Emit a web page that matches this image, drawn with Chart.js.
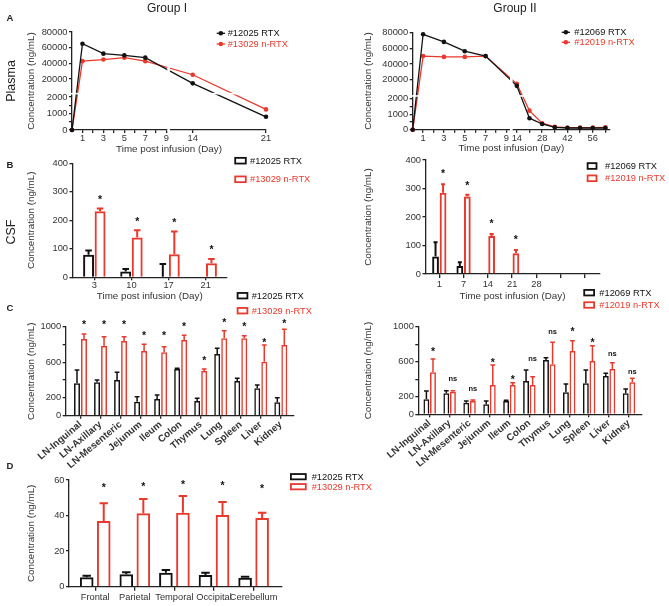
<!DOCTYPE html>
<html>
<head>
<meta charset="utf-8">
<script src="https://cdn.jsdelivr.net/npm/chart.js@4"></script>
<style>
body { margin: 0; background: #fff; width: 669px; height: 606px; position: relative; overflow: hidden; font-family: "Liberation Sans", Arial, Helvetica, sans-serif; color: #222; }
canvas { position: absolute; left: 0; top: 0; }
.t { position: absolute; white-space: nowrap; line-height: 1; transform: translate(-50%, -50%); }
.p { font-weight: bold; font-size: 9.5px; }
.v { font-size: 12.5px; transform: translate(-50%, -50%) rotate(-90deg); }
</style>
</head>
<body>
<canvas id="plasma1" width="669" height="606"></canvas>
<canvas id="plasma2" width="669" height="606"></canvas>
<canvas id="csf1" width="669" height="606"></canvas>
<canvas id="csf2" width="669" height="606"></canvas>
<canvas id="tissue1" width="669" height="606"></canvas>
<canvas id="tissue2" width="669" height="606"></canvas>
<canvas id="brain" width="669" height="606"></canvas>

<div class="t" style="left:167px;top:8px;font-size:12px">Group I</div>
<div class="t" style="left:515px;top:8px;font-size:12px">Group II</div>
<div class="t p" style="left:10px;top:18px">A</div>
<div class="t p" style="left:10px;top:165px">B</div>
<div class="t p" style="left:10px;top:308px">C</div>
<div class="t p" style="left:10px;top:466px">D</div>
<div class="t v" style="left:11px;top:81px">Plasma</div>
<div class="t v" style="left:11px;top:232px">CSF</div>

<script>
// A: plasma concentration (ng/mL) by day
const plasmaDaysG1 = [0, 1, 3, 5, 7, 14, 21];
const plasmaRtxG1 = [0, 65000, 52400, 50200, 47300, 14500, 800];
const plasmaNrtxG1 = [0, 42800, 44900, 47300, 42800, 25500, 1250];
const plasmaDaysG2 = [0, 1, 3, 5, 7, 14, 21, 28, 35, 42, 49, 56, 63];
const plasmaRtxG2 = [0, 77500, 67900, 56200, 50000, 12500, 745, 370, 150, 110, 110, 110, 110];
const plasmaNrtxG2 = [0, 50000, 49000, 49000, 50000, 15000, 1230, 420, 180, 140, 140, 140, 150];
const plasmaXTicksG1 = [1, 2, 3, 4, 5, 6, 7, 8, 9, 14, 21];
const plasmaXLabelsG1 = ['1', '', '3', '', '5', '', '7', '', '9', '14', '21'];
const plasmaXTicksG2 = [1, 2, 3, 4, 5, 6, 7, 8, 9, 14, 21, 28, 35, 42, 49, 56, 63];
const plasmaXLabelsG2 = ['1', '', '3', '', '5', '', '7', '', '9', '14', '', '28', '', '42', '', '56', ''];
const plasmaYTicks = [0, 500, 1000, 1500, 2000, 20000, 40000, 60000, 80000];
const plasmaYLabels = ['0', '', '1000', '', '2000', '20000', '40000', '60000', '80000'];

// B: CSF concentration (ng/mL)
const csfDaysG1 = ['3', '10', '17', '21'];
const csfRtxG1 = [79, 20, 2, null];
const csfRtxErrG1 = [94, 29, 47, null];
const csfNrtxG1 = [232, 140, 81, 49];
const csfNrtxErrG1 = [241, 165, 161, 64];
const csfStarsG1 = [283, 206, 200, 106];
const csfDaysG2 = ['1', '7', '14', '21', '28', '', ''];
const csfRtxG2 = [61, 28, null, null, null, null, null];
const csfRtxErrG2 = [111, 41, null, null, null, null, null];
const csfNrtxG2 = [285, 272, 133, 73, null, null, null];
const csfNrtxErrG2 = [315, 278, 140, 84, null, null, null];
const csfStarsG2 = [361, 320, 186, 131, null, null, null];
const csfYTicks = [0, 100, 200, 300, 400];

// C: tissue concentration (ng/mL)
const tissues = ['LN-Inguinal', 'LN-Axillary', 'LN-Mesenteric', 'Jejunum', 'Ileum', 'Colon', 'Thymus', 'Lung', 'Spleen', 'Liver', 'Kidney'];
const tissueRtxG1 = [364, 375, 401, 157, 188, 525, 165, 693, 390, 308, 150];
const tissueRtxErrG1 = [513, 401, 488, 213, 232, 532, 195, 757, 420, 345, 202];
const tissueNrtxG1 = [862, 783, 839, 727, 712, 850, 502, 869, 869, 607, 794];
const tissueNrtxErrG1 = [918, 888, 888, 802, 775, 903, 525, 955, 899, 794, 971];
const tissueMarksG1 = ['*', '*', '*', '*', '*', '*', '*', '*', '*', '*', '*'];
const tissueMarkAtG1 = [1049, 1049, 1049, 926, 926, 1027, 645, 1075, 1027, 851, 1067];
const tissueRtxG2 = [171, 240, 132, 114, 152, 380, 620, 251, 354, 437, 240];
const tissueRtxErrG2 = [266, 269, 152, 152, 160, 506, 646, 346, 506, 468, 289];
const tissueNrtxG2 = [479, 258, 152, 334, 334, 334, 571, 723, 608, 517, 365];
const tissueNrtxErrG2 = [631, 269, 163, 563, 361, 429, 822, 840, 783, 589, 411];
const tissueMarksG2 = ['*', 'ns', 'ns', '*', '*', 'ns', 'ns', '*', '*', 'ns', 'ns'];
const tissueMarkAtG2 = [745, 403, 285, 620, 429, 628, 936, 974, 848, 685, 486];
const tissueYTicks = [0, 200, 400, 600, 800, 1000];
const tissueYLabels = ['0', '200', '', '600', '', '1000'];

// D: brain regions (ng/mL)
const regions = ['Frontal', 'Parietal', 'Temporal', 'Occipital', 'Cerebellum'];
const brainRtx = [5.3, 7, 7.9, 6.6, 5.1];
const brainRtxErr = [6.2, 8.1, 9.4, 7.9, 5.6];
const brainNrtx = [37, 41.3, 41.6, 40.3, 38.7];
const brainNrtxErr = [46.9, 49.3, 51, 47.6, 41.6];
const brainStars = [57.2, 57.6, 59, 58.2, 56.6];
const brainYTicks = [0, 20, 40, 60];

const RED = '#e8392e';
const BLACK = '#111';
const AXIS = '#222';
const TXT = '#333';
const FONT = '"Liberation Sans", Arial, Helvetica, sans-serif';
const TITLE_SIZE = 9.8;
const LH = TITLE_SIZE * 1.2;

Chart.defaults.font.family = FONT;
Chart.defaults.font.size = 9.3;
Chart.defaults.color = TXT;
Chart.defaults.animation = false;
Chart.defaults.responsive = false;
Chart.defaults.events = [];
Chart.defaults.plugins.legend.display = false;
Chart.defaults.plugins.tooltip.enabled = false;

// broken axes: map real values onto one linear scale
const xG1 = d => d <= 9 ? d : d - 2.47;
const xG2 = d => d <= 9 ? d : 10 + (d - 14) * 0.1737;
const yG1 = v => v <= 2000 ? v * 0.0165 : 35.3 + v * 0.000785;
const yG2 = v => v <= 2000 ? v * 0.0155 : 34 + v * 0.000795;

// where the plot area sits on the page
function frame(area, yTitleX, xTitleY) {
    const padLeft = yTitleX - LH / 2;
    const xHeight = xTitleY ? xTitleY + LH / 2 - area.bottom : 70;
    return {
        padding: { left: padLeft, top: area.top, right: 669 - area.right, bottom: 606 - area.bottom - xHeight },
        yWidth: area.left - padLeft,
        xHeight
    };
}

function yScale(f, min, max, tickVals, tickLabels) {
    return {
        type: 'linear', position: 'left', min, max, bounds: 'data',
        border: { display: true, color: AXIS, width: 1.3 },
        grid: { drawOnChartArea: false, drawTicks: true, tickLength: 3, color: AXIS, lineWidth: 1.3 },
        ticks: { padding: 1.5, color: TXT, autoSkip: false, callback: (v, i) => tickLabels[i] },
        afterBuildTicks: s => { s.ticks = tickVals.map(v => ({ value: v })); },
        title: { display: true, text: 'Concentration (ng/mL)', color: TXT, font: { size: TITLE_SIZE }, padding: 0 },
        afterFit: s => { s.width = f.yWidth; }
    };
}

function xScale(f, min, max, tickVals, tickLabels, o) {
    const ticks = { padding: o.pad, color: TXT, autoSkip: false, maxRotation: o.rot, minRotation: o.rot, callback: (v, i) => tickLabels[i] };
    if (o.font) ticks.font = o.font;
    return {
        type: 'linear', position: 'bottom', min, max, bounds: 'data', offset: false,
        border: { display: true, color: AXIS, width: 1.3 },
        grid: { offset: false, drawOnChartArea: false, drawTicks: true, tickLength: o.tl, color: AXIS, lineWidth: 1.3 },
        ticks,
        afterBuildTicks: s => { s.ticks = tickVals.map(v => ({ value: v })); },
        title: { display: !!o.title, text: o.title || '', color: TXT, font: { size: TITLE_SIZE }, padding: 0 },
        afterFit: s => { s.height = f.xHeight; }
    };
}

function lineSet(label, color, days, vals, xf, yf) {
    return {
        label, borderColor: color, backgroundColor: color,
        data: days.map((d, i) => ({ x: xf(d), y: yf(vals[i]) })),
        pointBackgroundColor: color, pointBorderColor: color, pointBorderWidth: 0,
        pointRadius: 2.3, borderWidth: 1.3, tension: 0, clip: false
    };
}

function barSet(label, color, vals, err, bw, cat, bar, cap, extra) {
    return Object.assign({
        label, borderColor: color, backgroundColor: 'rgba(255,255,255,0)',
        data: vals.map((v, i) => ({ x: i, y: v })),
        borderWidth: bw, categoryPercentage: cat, barPercentage: bar,
        errTop: err, capFrac: cap
    }, extra || {});
}

const errorBars = {
    id: 'errorBars',
    afterDatasetsDraw(chart) {
        const ctx = chart.ctx;
        const ys = chart.scales.y;
        chart.data.datasets.forEach((ds, di) => {
            if (!ds.errTop) return;
            const meta = chart.getDatasetMeta(di);
            ctx.save();
            ctx.strokeStyle = ds.borderColor;
            ctx.lineWidth = ds.borderWidth;
            meta.data.forEach((el, i) => {
                const top = ds.errTop[i];
                if (top == null) return;
                const base = ds.data[i].y == null ? ys.getPixelForValue(0) : el.y;
                const yt = ys.getPixelForValue(top);
                const half = el.width * ds.capFrac / 2;
                ctx.beginPath();
                ctx.moveTo(el.x, base);
                ctx.lineTo(el.x, yt);
                ctx.moveTo(el.x - half, yt);
                ctx.lineTo(el.x + half, yt);
                ctx.stroke();
            });
            ctx.restore();
        });
    }
};

const marks = {
    id: 'marks',
    afterDatasetsDraw(chart) {
        const ctx = chart.ctx;
        const ys = chart.scales.y;
        chart.data.datasets.forEach((ds, di) => {
            if (!ds.markAt) return;
            const meta = chart.getDatasetMeta(di);
            ctx.save();
            ctx.fillStyle = '#111';
            ctx.textAlign = 'center';
            ctx.textBaseline = 'alphabetic';
            ds.markAt.forEach((v, i) => {
                if (v == null) return;
                const txt = ds.marks ? ds.marks[i] : '*';
                const star = txt === '*';
                const fs = star ? 10.5 : 7.5;
                ctx.font = 'bold ' + fs + 'px ' + FONT;
                ctx.fillText(txt, meta.data[i].x, ys.getPixelForValue(v) + fs * (star ? 0.58 : 0.27));
            });
            ctx.restore();
        });
    }
};

const sideLegend = {
    id: 'sideLegend',
    afterDraw(chart, args, o) {
        if (o.x == null) return;
        const ctx = chart.ctx;
        chart.data.datasets.forEach((ds, i) => {
            const yy = o.y + i * o.step;
            ctx.save();
            ctx.strokeStyle = ds.borderColor;
            ctx.fillStyle = ds.borderColor;
            if (o.kind === 'line') {
                ctx.lineWidth = 1.3;
                ctx.beginPath();
                ctx.moveTo(o.x, yy);
                ctx.lineTo(o.x + o.w, yy);
                ctx.stroke();
                ctx.beginPath();
                ctx.arc(o.x + o.w / 2, yy, 2.3, 0, Math.PI * 2);
                ctx.fill();
            } else {
                ctx.lineWidth = o.lw;
                ctx.strokeRect(o.x + o.lw / 2, yy - o.h / 2, o.w - o.lw, o.h);
            }
            ctx.font = '9.3px ' + FONT;
            ctx.textAlign = 'left';
            ctx.textBaseline = 'middle';
            ctx.fillText(ds.label, o.textX, yy + 0.5);
            ctx.restore();
        });
    }
};

const axisBreaks = {
    id: 'axisBreaks',
    afterDraw(chart, args, o) {
        if (o.xFrom == null) return;
        const { ctx, chartArea: a, scales: { x, y } } = chart;
        ctx.save();
        ctx.fillStyle = '#fff';
        const x1 = x.getPixelForValue(o.xFrom), x2 = x.getPixelForValue(o.xTo);
        ctx.fillRect(x1, a.top - 2, x2 - x1, a.bottom - a.top + 3);
        const y1 = y.getPixelForValue(o.yTo), y2 = y.getPixelForValue(o.yFrom);
        ctx.fillRect(a.left - 2, y1, a.right - a.left + 4, y2 - y1);
        ctx.restore();
    }
};

// A, group I
const fA1 = frame({ left: 72, right: 266, top: 32, bottom: 130 }, 31.7, 149);
new Chart(document.getElementById('plasma1'), {
    type: 'line',
    data: { datasets: [
        lineSet('#12025 RTX', BLACK, plasmaDaysG1, plasmaRtxG1, xG1, yG1),
        lineSet('#13029 n-RTX', RED, plasmaDaysG1, plasmaNrtxG1, xG1, yG1)
    ] },
    options: {
        layout: { padding: fA1.padding },
        scales: {
            x: xScale(fA1, 0, xG1(21), plasmaXTicksG1.map(xG1), plasmaXLabelsG1, { tl: 3, pad: 0, rot: 0, title: 'Time post infusion (Day)' }),
            y: yScale(fA1, 0, yG1(80000), plasmaYTicks.map(yG1), plasmaYLabels)
        },
        plugins: {
            axisBreaks: { xFrom: 9.1, xTo: 9.35, yFrom: 35.6, yTo: 37.2 },
            sideLegend: { kind: 'line', x: 216.7, y: 33.3, step: 10.7, w: 8.3, textX: 227.7 }
        }
    },
    plugins: [axisBreaks, sideLegend]
});

// A, group II
const fA2 = frame({ left: 412.7, right: 610, top: 32.3, bottom: 129.7 }, 368.3, 148.3);
new Chart(document.getElementById('plasma2'), {
    type: 'line',
    data: { datasets: [
        lineSet('#12069 RTX', BLACK, plasmaDaysG2, plasmaRtxG2, xG2, yG2),
        lineSet('#12019 n-RTX', RED, plasmaDaysG2, plasmaNrtxG2, xG2, yG2)
    ] },
    options: {
        layout: { padding: fA2.padding },
        scales: {
            x: xScale(fA2, 0, 18.95, plasmaXTicksG2.map(xG2), plasmaXLabelsG2, { tl: 3, pad: 0, rot: 0, title: 'Time post infusion (Day)' }),
            y: yScale(fA2, 0, yG2(80000), plasmaYTicks.map(yG2), plasmaYLabels)
        },
        plugins: {
            axisBreaks: { xFrom: 9.35, xTo: 9.6, yFrom: 33, yTo: 34.6 },
            sideLegend: { kind: 'line', x: 561.7, y: 32.3, step: 10, w: 8.3, textX: 574.3 }
        }
    },
    plugins: [axisBreaks, sideLegend]
});

// B, group I
const fB1 = frame({ left: 72.5, right: 227, top: 163.3, bottom: 277.3 }, 31.7, 296.7);
new Chart(document.getElementById('csf1'), {
    type: 'bar',
    data: { datasets: [
        barSet('#12025 RTX', BLACK, csfRtxG1, csfRtxErrG1, 2, 0.62, 0.95, 0.6),
        barSet('#13029 n-RTX', RED, csfNrtxG1, csfNrtxErrG1, 2, 0.62, 0.95, 0.6, { markAt: csfStarsG1 })
    ] },
    options: {
        layout: { padding: fB1.padding },
        scales: {
            x: xScale(fB1, -0.588, 3.574, csfDaysG1.map((c, i) => i), csfDaysG1, { tl: 3, pad: 0, rot: 0, title: 'Time post infusion (Day)' }),
            y: yScale(fB1, 0, 400, csfYTicks, csfYTicks.map(String))
        },
        plugins: { sideLegend: { kind: 'box', x: 234.3, y: 160.7, step: 18.6, w: 12.4, h: 5.7, lw: 1.8, textX: 250 } }
    },
    plugins: [errorBars, marks, sideLegend]
});

// B, group II
const fB2 = frame({ left: 425.5, right: 599.5, top: 160, bottom: 274 }, 368, 296.7);
new Chart(document.getElementById('csf2'), {
    type: 'bar',
    data: { datasets: [
        barSet('#12069 RTX', BLACK, csfRtxG2, csfRtxErrG2, 2, 0.62, 0.9, 0.6),
        barSet('#12019 n-RTX', RED, csfNrtxG2, csfNrtxErrG2, 2, 0.62, 0.9, 0.6, { markAt: csfStarsG2 })
    ] },
    options: {
        layout: { padding: fB2.padding },
        scales: {
            x: xScale(fB2, -0.568, 6.597, csfDaysG2.map((c, i) => i), csfDaysG2, { tl: 4, pad: 1, rot: 0, title: 'Time post infusion (Day)' }),
            y: yScale(fB2, 0, 400, csfYTicks, csfYTicks.map(String))
        },
        plugins: { sideLegend: { kind: 'box', x: 586.7, y: 166, step: 12.3, w: 10.7, h: 5.7, lw: 1.8, textX: 605 } }
    },
    plugins: [errorBars, marks, sideLegend]
});

// C, group I
const fC1 = frame({ left: 65.7, right: 293.3, top: 326.7, bottom: 415.7 }, 31.7, null);
new Chart(document.getElementById('tissue1'), {
    type: 'bar',
    data: { datasets: [
        barSet('#12025 RTX', BLACK, tissueRtxG1, tissueRtxErrG1, 1.5, 0.7, 0.85, 0.8),
        barSet('#13029 n-RTX', RED, tissueNrtxG1, tissueNrtxErrG1, 1.5, 0.7, 0.85, 0.8, { markAt: tissueMarkAtG1, marks: tissueMarksG1 })
    ] },
    options: {
        layout: { padding: fC1.padding },
        scales: {
            x: xScale(fC1, -0.739, 10.624, tissues.map((c, i) => i), tissues, { tl: 3, pad: 0, rot: 40, font: { size: 9.8, weight: 'bold' } }),
            y: yScale(fC1, 0, 1000, tissueYTicks, tissueYLabels)
        },
        plugins: { sideLegend: { kind: 'box', x: 236.7, y: 295.7, step: 15, w: 11.6, h: 5.5, lw: 1.8, textX: 251.7 } }
    },
    plugins: [errorBars, marks, sideLegend]
});

// C, group II
const fC2 = frame({ left: 418.3, right: 641.7, top: 326.7, bottom: 414.3 }, 368.3, null);
new Chart(document.getElementById('tissue2'), {
    type: 'bar',
    data: { datasets: [
        barSet('#12069 RTX', BLACK, tissueRtxG2, tissueRtxErrG2, 1.5, 0.66, 0.9, 0.8),
        barSet('#12019 n-RTX', RED, tissueNrtxG2, tissueNrtxErrG2, 1.5, 0.66, 0.9, 0.8, { markAt: tissueMarkAtG2, marks: tissueMarksG2 })
    ] },
    options: {
        layout: { padding: fC2.padding },
        scales: {
            x: xScale(fC2, -0.572, 10.637, tissues.map((c, i) => i), tissues, { tl: 3, pad: 0, rot: 40, font: { size: 9.8, weight: 'bold' } }),
            y: yScale(fC2, 0, 1000, tissueYTicks, tissueYLabels)
        },
        plugins: { sideLegend: { kind: 'box', x: 583.3, y: 292.7, step: 12.3, w: 11.7, h: 5.5, lw: 1.8, textX: 599.3 } }
    },
    plugins: [errorBars, marks, sideLegend]
});

// D, brain regions
const fD = frame({ left: 69, right: 282, top: 480, bottom: 586.7 }, 31.7, null);
new Chart(document.getElementById('brain'), {
    type: 'bar',
    data: { datasets: [
        barSet('#12025 RTX', BLACK, brainRtx, brainRtxErr, 2, 0.86, 0.8, 0.62),
        barSet('#13029 n-RTX', RED, brainNrtx, brainNrtxErr, 2, 0.86, 0.8, 0.62, { markAt: brainStars })
    ] },
    options: {
        layout: { padding: fD.padding },
        scales: {
            x: xScale(fD, -0.662, 4.717, regions.map((c, i) => i), regions, { tl: 4, pad: 1, rot: 0 }),
            y: yScale(fD, 0, 60, brainYTicks, brainYTicks.map(String))
        },
        plugins: { sideLegend: { kind: 'box', x: 290, y: 476.7, step: 10, w: 16.7, h: 5.3, lw: 1.8, textX: 311.7 } }
    },
    plugins: [errorBars, marks, sideLegend]
});
</script>
</body>
</html>
